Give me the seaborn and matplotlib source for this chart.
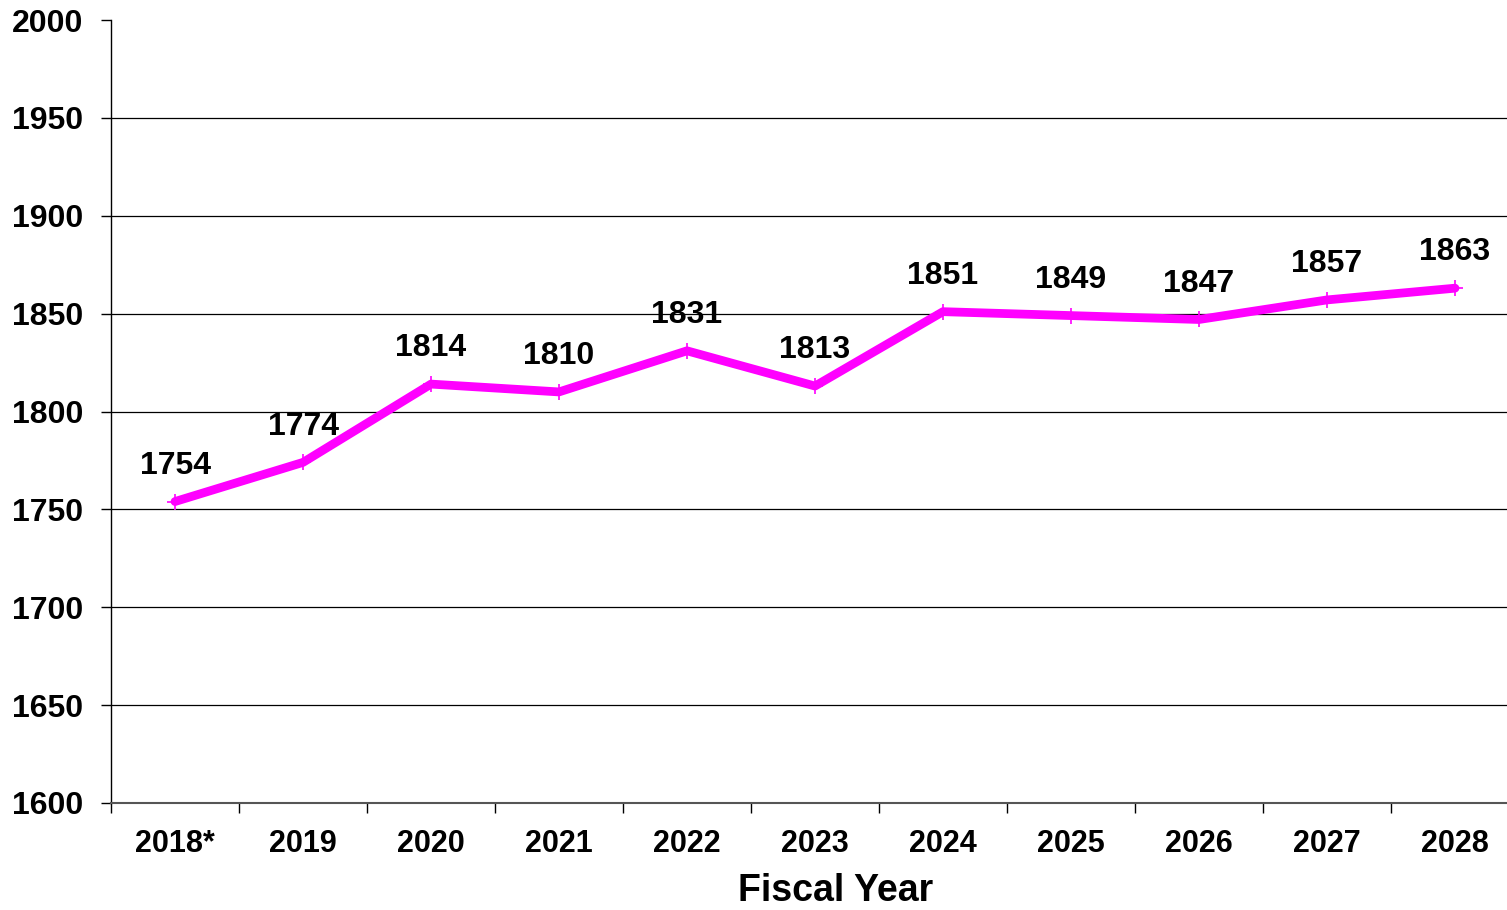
import pandas as pd
import matplotlib.pyplot as plt
import seaborn as sns

years = ["2018*", "2019", "2020", "2021", "2022", "2023", "2024", "2025", "2026", "2027", "2028"]
values = [1754, 1774, 1814, 1810, 1831, 1813, 1851, 1849, 1847, 1857, 1863]

df = pd.DataFrame({"Year": years, "Value": values})

sns.set_style("white")
plt.rcParams["font.family"] = ["Liberation Sans", "DejaVu Sans"]
plt.rcParams["font.weight"] = "bold"
plt.rcParams["text.color"] = "black"
plt.rcParams["xtick.color"] = "black"
plt.rcParams["ytick.color"] = "black"
plt.rcParams["axes.labelcolor"] = "black"

fig = plt.figure(figsize=(15.07, 9.10), dpi=100)
ax = fig.add_axes([111 / 1507, 107 / 910, (1519 - 111) / 1507, 783 / 910])

sns.lineplot(data=df, x="Year", y="Value", ax=ax, color="#FF00FF", linewidth=6.3,
             marker="+", markersize=11, markeredgewidth=1.2, markeredgecolor="#FF00FF",
             sort=False)

for i, v in enumerate(values):
    ax.annotate(str(v), (i, v), xytext=(0, 15), textcoords="offset points",
                ha="center", va="bottom", fontsize=23, fontweight="bold", color="black")

ax.set_xlim(-0.5, len(years) - 0.5)
ax.set_ylim(1600, 2000)
ax.set_yticks(range(1600, 2001, 50))
ax.set_xticks(range(len(years)))
ax.set_xticklabels(years)
ax.set_xticks([i + 0.5 for i in range(-1, len(years))], minor=True)

ax.tick_params(axis="y", which="major", length=7, width=1, color="black", pad=13,
               labelsize=23, direction="out", left=True, labelcolor="black")
ax.tick_params(axis="x", which="major", length=0, pad=19, labelsize=22, labelcolor="black")
ax.tick_params(axis="x", which="minor", length=7, width=1, color="black",
               direction="out", bottom=True)
for lab in ax.get_xticklabels() + ax.get_yticklabels():
    lab.set_fontweight("bold")

ax.yaxis.grid(True, color="black", linewidth=0.9)
ax.yaxis.get_gridlines()[-1].set_visible(False)
ax.set_axisbelow(True)

for s in ["top", "right"]:
    ax.spines[s].set_visible(False)
ax.spines["left"].set_color("black")
ax.spines["left"].set_linewidth(1)
ax.spines["bottom"].set_color("#555555")
ax.spines["bottom"].set_linewidth(1.5)

ax.set_ylabel("")
ax.set_xlabel("Fiscal Year", fontsize=27, fontweight="bold", color="black")
ax.xaxis.set_label_coords((836 - 111) / (1519 - 111), -0.09)

fig.savefig("out.png", dpi=100)
